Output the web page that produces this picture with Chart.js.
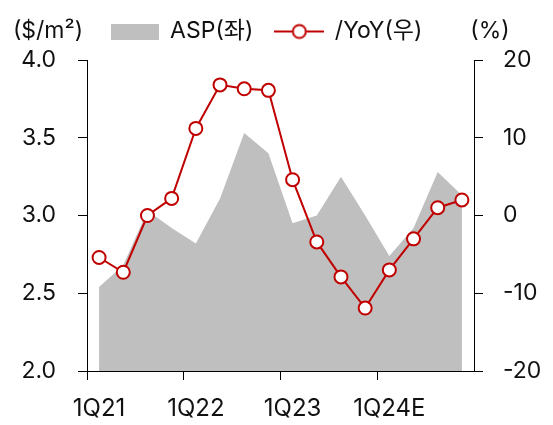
<!DOCTYPE html>
<html>
<head>
<meta charset="utf-8">
<script src="https://cdn.jsdelivr.net/npm/chart.js@4"></script>
<style>
  html, body { margin: 0; padding: 0; background: #fff; }
  #wrap { width: 553px; height: 425px; }
</style>
</head>
<body>
<div id="wrap"><canvas id="grafico"></canvas></div>
<script>
// 분기 라벨
const quarters = ['1Q21', '2Q21', '3Q21', '4Q21', '1Q22', '2Q22', '3Q22', '4Q22',
                  '1Q23', '2Q23', '3Q23', '4Q23', '1Q24E', '2Q24E', '3Q24E', '4Q24E'];
// ASP ($/m2, 좌축)
const asp = [2.54, 2.68, 3.03, 2.92, 2.82, 3.11, 3.53, 3.40,
             2.95, 3.00, 3.25, 3.00, 2.74, 2.92, 3.28, 3.13];
// YoY (%, 우축)
const yoy = [-5.4, -7.3, 0.0, 2.2, 11.2, 16.8, 16.3, 16.1,
             4.6, -3.4, -7.9, -11.9, -7.0, -3.0, 1.0, 2.0];
const leftTicks = [2.0, 2.5, 3.0, 3.5, 4.0];
const rightTicks = [-20, -10, 0, 10, 20];

const CINZA = '#bfbfbf';
const VERMELHO = '#c00000';
const FONTE = "Inter, 'Noto Sans CJK KR', sans-serif";
const TAM = 23;

function iconeArea() {
    const c = document.createElement('canvas');
    c.width = 48; c.height = 16;
    const g = c.getContext('2d');
    g.fillStyle = CINZA;
    g.fillRect(0, 0, 48, 16);
    return c;
}

function iconeLinha() {
    const c = document.createElement('canvas');
    c.width = 50; c.height = 18;
    const g = c.getContext('2d');
    g.strokeStyle = VERMELHO;
    g.lineWidth = 2;
    g.beginPath(); g.moveTo(0, 9); g.lineTo(50, 9); g.stroke();
    g.beginPath(); g.arc(25, 9, 6.5, 0, Math.PI * 2);
    g.fillStyle = '#fff'; g.fill(); g.stroke();
    return c;
}

// títulos dos eixos acima do gráfico + ajuste da legenda
const titulosEixos = {
    id: 'titulosEixos',
    afterLayout(chart) {
        const lg = chart.legend;
        lg.top -= 7; lg.bottom -= 7;
        lg.left -= 10; lg.right -= 10;
    },
    afterDraw(chart) {
        const ctx = chart.ctx;
        const area = chart.chartArea;
        ctx.save();
        ctx.font = TAM + 'px ' + FONTE;
        ctx.fillStyle = '#111';
        ctx.textBaseline = 'middle';
        ctx.textAlign = 'center';
        ctx.fillText('($/m²)', area.left - 39, 31);
        ctx.fillText('(%)', area.right + 16, 31);
        ctx.restore();
    }
};

const ctx = document.getElementById('grafico').getContext('2d');

new Chart(ctx, {
    type: 'line',
    data: {
        labels: quarters,
        datasets: [{
            label: 'ASP(좌)',
            data: asp,
            yAxisID: 'y',
            backgroundColor: CINZA,
            borderWidth: 0,
            pointRadius: 0,
            fill: 'start',
            tension: 0,
            order: 1
        }, {
            label: '/YoY(우)',
            data: yoy,
            yAxisID: 'y1',
            borderColor: VERMELHO,
            borderWidth: 2,
            pointRadius: 6.5,
            pointBorderWidth: 2,
            pointBackgroundColor: '#fff',
            pointBorderColor: VERMELHO,
            fill: false,
            tension: 0,
            order: 0
        }]
    },
    options: {
        responsive: true,
        maintainAspectRatio: false,
        animation: false,
        layout: { padding: { top: 5, left: 0, right: 0, bottom: 0 } },
        plugins: {
            tooltip: { enabled: false },
            legend: {
                display: true,
                position: 'top',
                labels: {
                    color: '#111',
                    font: { family: FONTE, size: TAM },
                    usePointStyle: true,
                    pointStyleWidth: 48,
                    boxHeight: TAM,
                    padding: 22,
                    generateLabels: function(chart) {
                        return [{
                            text: 'ASP(좌)', pointStyle: iconeArea(), fillStyle: CINZA,
                            lineWidth: 0, datasetIndex: 0, hidden: false, fontColor: '#111'
                        }, {
                            text: '/YoY(우)', pointStyle: iconeLinha(), fillStyle: '#fff',
                            lineWidth: 0, datasetIndex: 1, hidden: false, fontColor: '#111'
                        }];
                    }
                }
            }
        },
        scales: {
            x: {
                type: 'category',
                offset: true,
                afterFit: s => { s.height = 54; },
                grid: {
                    offset: true,
                    drawOnChartArea: false,
                    drawTicks: true,
                    tickLength: 9,
                    tickColor: c => (c.index % 4 === 0 ? '#000' : 'rgba(0,0,0,0)')
                },
                border: { display: true, color: '#000', width: 1 },
                ticks: {
                    autoSkip: false,
                    maxRotation: 0,
                    padding: 14,
                    color: '#111',
                    font: { family: FONTE, size: 24 },
                    callback: function(v, i) { return i % 4 === 0 ? quarters[i] : ''; }
                }
            },
            y: {
                position: 'left',
                min: leftTicks[0],
                max: leftTicks[leftTicks.length - 1],
                afterFit: s => { s.width = 87; },
                afterBuildTicks: s => { s.ticks = leftTicks.map(v => ({ value: v })); },
                grid: { drawOnChartArea: false, drawTicks: true, tickLength: 9, tickColor: '#000' },
                border: { display: true, color: '#000', width: 1 },
                ticks: {
                    padding: 22,
                    color: '#111',
                    font: { family: FONTE, size: TAM },
                    callback: v => v.toFixed(1)
                }
            },
            y1: {
                position: 'right',
                min: rightTicks[0],
                max: rightTicks[rightTicks.length - 1],
                afterFit: s => { s.width = 79; },
                afterBuildTicks: s => { s.ticks = rightTicks.map(v => ({ value: v })); },
                grid: { drawOnChartArea: false, drawTicks: true, tickLength: 9, tickColor: '#000' },
                border: { display: true, color: '#000', width: 1 },
                ticks: {
                    padding: 20,
                    color: '#111',
                    font: { family: FONTE, size: TAM },
                    callback: v => String(v)
                }
            }
        }
    },
    plugins: [titulosEixos]
});
</script>
</body>
</html>
